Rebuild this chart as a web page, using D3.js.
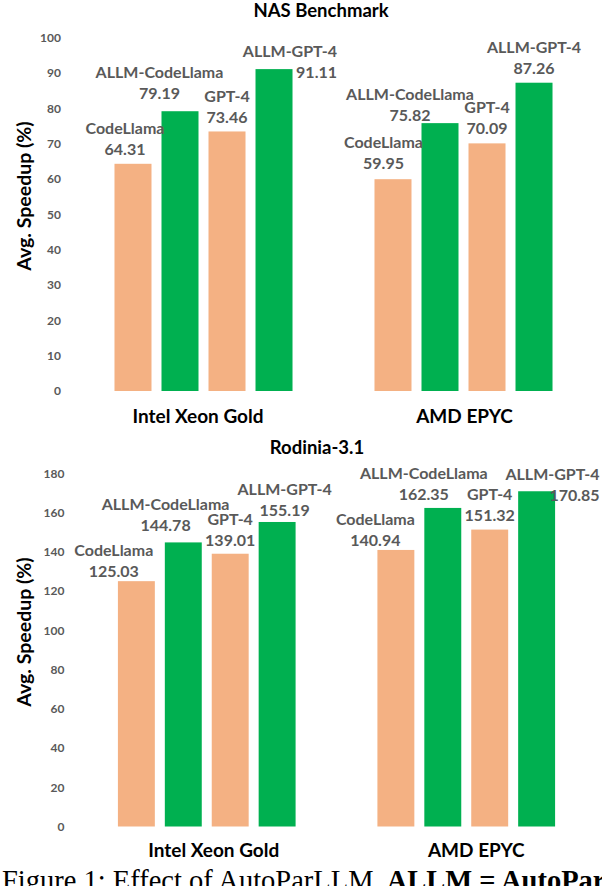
<!DOCTYPE html>
<html>
<head>
<meta charset="utf-8">
<script src="https://cdn.jsdelivr.net/npm/d3@7"></script>
<style>
  html, body { margin: 0; padding: 0; background: #fff; }
  svg { display: block; }
</style>
</head>
<body>
<script>
// values
const groups = ["Intel Xeon Gold", "AMD EPYC"];
const series = ["CodeLlama", "ALLM-CodeLlama", "GPT-4", "ALLM-GPT-4"];
const nasValues = [[64.31, 79.19, 73.46, 91.11], [59.95, 75.82, 70.09, 87.26]];
const rodiniaValues = [[125.03, 144.78, 139.01, 155.19], [140.94, 162.35, 151.32, 170.85]];
const nasTicks = [0, 10, 20, 30, 40, 50, 60, 70, 80, 90, 100];
const rodiniaTicks = [0, 20, 40, 60, 80, 100, 120, 140, 160, 180];
const seriesColors = ["#F4B183", "#00B050", "#F4B183", "#00B050"];

// data label placement (hand placed in the original), [dx from bar centre, dy of value line from bar top, anchor]
const nasNudges = [
    [[-8, -14, "middle"], [-20.5, -18, "middle"], [0, -14.5, "middle"], [63, 2.7, "end"]],
    [[-9.5, -16, "middle"], [-30, -8, "middle"], [0, -15.4, "middle"], [0, -14.7, "middle"]]
];
const rodiniaNudges = [
    [[-22.6, -9.7, "middle"], [-17.7, -17.4, "middle"], [0, -13.8, "middle"], [7.5, -12, "middle"]],
    [[-20.5, -10, "middle"], [-19, -13.7, "middle"], [0, -14, "middle"], [63, 3.7, "end"]]
];

const W = 602, H = 886;
const FONT = "Lato, Carlito, Calibri, sans-serif";
const GREY = "#595959";

const panels = [
    { title: "NAS Benchmark", values: nasValues, ticks: nasTicks, max: 100, nudges: nasNudges,
      top: 37.7, bottom: 391, left: 73.5, right: 593.5, titleX: 321, titleY: 17,
      catDx: [-5.5, 1], catY: 422.5, yTitleY: 196 },
    { title: "Rodinia-3.1", values: rodiniaValues, ticks: rodiniaTicks, max: 180, nudges: rodiniaNudges,
      top: 473.3, bottom: 826.5, left: 77, right: 596, titleX: 317, titleY: 454,
      catDx: [7, 10], catY: 857, yTitleY: 632 }
];

const svg = d3.select("body").append("svg")
    .attr("width", W)
    .attr("height", H)
    .attr("viewBox", `0 0 ${W} ${H}`);

panels.forEach(p => {
    const g = svg.append("g");

    const y = d3.scaleLinear().domain([0, p.max]).range([p.bottom, p.top]);
    const x0 = d3.scaleBand().domain(groups).range([p.left, p.right]);
    const x1 = d3.scaleBand().domain(series).range([0, x0.bandwidth()])
        .paddingInner(0.2128).paddingOuter(0.872);

    // y axis: labels only
    const yAxis = g.append("g")
        .attr("transform", `translate(${p.left},0)`)
        .call(d3.axisLeft(y).tickValues(p.ticks).tickSize(0).tickPadding(12.5));
    yAxis.select(".domain").remove();
    yAxis.selectAll("text")
        .attr("fill", GREY)
        .style("font-family", FONT)
        .style("font-weight", "bold")
        .style("font-size", "12px");

    // bars
    const grp = g.selectAll(".grp")
        .data(groups)
        .join("g")
        .attr("transform", d => `translate(${x0(d)},0)`);

    grp.selectAll("rect")
        .data((d, gi) => series.map((s, si) => ({ s, si, gi, v: p.values[gi][si] })))
        .join("rect")
        .attr("x", d => x1(d.s))
        .attr("y", d => y(d.v))
        .attr("width", x1.bandwidth())
        .attr("height", d => y(0) - y(d.v))
        .attr("fill", d => seriesColors[d.si]);

    // two-line data labels
    const lab = grp.selectAll(".lab")
        .data((d, gi) => series.map((s, si) => ({ s, si, gi, v: p.values[gi][si] })))
        .join("text")
        .attr("class", "lab")
        .attr("text-anchor", d => p.nudges[d.gi][d.si][2])
        .attr("fill", GREY)
        .style("font-family", FONT)
        .style("font-weight", "bold")
        .style("font-size", "16px");
    lab.each(function (d) {
        const n = p.nudges[d.gi][d.si];
        const cx = x1(d.s) + x1.bandwidth() / 2 + n[0];
        const base = y(d.v) + n[1] + 5.7;
        const t = d3.select(this);
        t.append("tspan").attr("x", cx).attr("y", base - 21).text(d.s);
        t.append("tspan").attr("x", cx).attr("y", base).text(d3.format(".2f")(d.v));
    });

    // category labels
    g.selectAll(".cat")
        .data(groups)
        .join("text")
        .attr("class", "cat")
        .attr("x", (d, i) => x0(d) + x0.bandwidth() / 2 + p.catDx[i])
        .attr("y", p.catY)
        .attr("text-anchor", "middle")
        .attr("fill", "#000")
        .style("font-family", FONT)
        .style("font-weight", "bold")
        .style("font-size", "19px")
        .text(d => d);

    // panel title
    g.append("text")
        .attr("x", p.titleX)
        .attr("y", p.titleY)
        .attr("text-anchor", "middle")
        .style("font-family", FONT)
        .style("font-weight", "bold")
        .style("font-size", "18.5px")
        .text(p.title);

    // y axis title
    g.append("text")
        .attr("transform", `translate(23,${p.yTitleY}) rotate(-90)`)
        .attr("text-anchor", "middle")
        .attr("dominant-baseline", "central")
        .style("font-family", FONT)
        .style("font-weight", "bold")
        .style("font-size", "19.5px")
        .text("Avg. Speedup (%)");
});

// figure caption, cut by the bottom edge like the source
const cap = svg.append("text")
    .attr("x", 2)
    .attr("y", 890)
    .style("font-family", "'Liberation Serif', 'Times New Roman', serif")
    .style("font-size", "28.5px");
cap.append("tspan").text("Figure 1: Effect of AutoParLLM.");
cap.append("tspan").attr("dx", 6).style("font-weight", "bold").text("ALLM = AutoPar");
</script>
</body>
</html>
